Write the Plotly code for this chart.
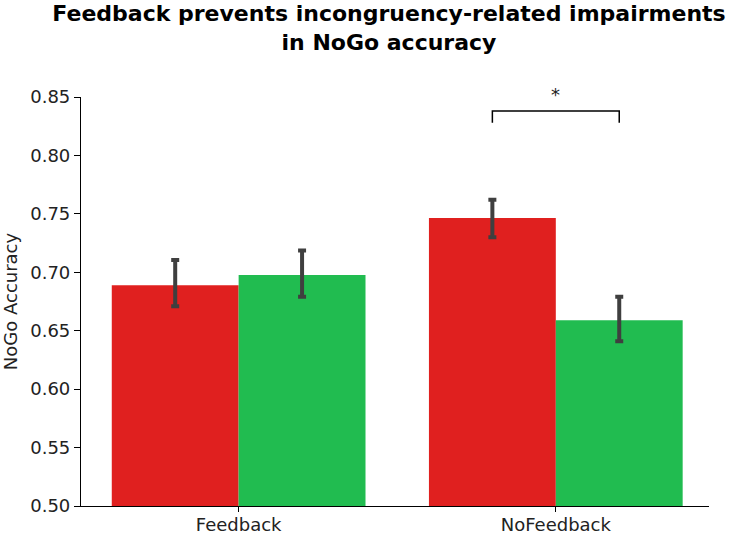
import plotly.graph_objects as go

categories = ["Feedback", "NoFeedback"]
congruent = [0.689, 0.7465]
congruent_hi = [0.7105, 0.762]
congruent_lo = [0.671, 0.730]
incongruent = [0.6977, 0.659]
incongruent_hi = [0.7186, 0.679]
incongruent_lo = [0.679, 0.641]
bracket_x = [0.8, 0.8, 1.2, 1.2]
bracket_y = [0.828, 0.838, 0.838, 0.828]
star_pos = (1.0, 0.8415)

RED = "#e0201f"
GREEN = "#21bc50"
ERR = "#3f3f3f"
FONT = "DejaVu Sans"

fig = go.Figure()
for name, vals, hi, lo, col in [
    ("Congruent", congruent, congruent_hi, congruent_lo, RED),
    ("Incongruent", incongruent, incongruent_hi, incongruent_lo, GREEN),
]:
    fig.add_trace(go.Bar(
        x=[0, 1], y=vals, name=name, marker=dict(color=col, line=dict(width=0)),
        error_y=dict(type="data", symmetric=False,
                     array=[h - v for h, v in zip(hi, vals)],
                     arrayminus=[v - l for v, l in zip(vals, lo)],
                     color=ERR, thickness=4, width=4),
    ))

fig.add_trace(go.Scatter(x=bracket_x, y=bracket_y, mode="lines",
                         line=dict(color="black", width=1.5), cliponaxis=False,
                         showlegend=False, hoverinfo="skip"))
fig.add_annotation(x=star_pos[0], y=star_pos[1], xref="x", yref="y", text="*",
                   showarrow=False, font=dict(family=FONT, size=18, color="#222"),
                   yanchor="bottom")

fig.update_layout(
    width=739, height=535,
    margin=dict(l=81, r=30, t=97, b=29),
    paper_bgcolor="white", plot_bgcolor="white",
    barmode="group", bargap=0.2, bargroupgap=0,
    showlegend=False,
    font=dict(family=FONT, size=18, color="#222"),
    title=dict(text="<b>Feedback prevents incongruency-related impairments<br>in NoGo accuracy</b>",
               x=389/739, xref="container", xanchor="center",
               y=1 - 21/535, yref="container", yanchor="top",
               font=dict(family=FONT, size=22, color="black")),
    xaxis=dict(range=[-0.497, 1.483], tickvals=[0, 1], ticktext=categories,
               showline=True, linecolor="black", linewidth=1.2,
               ticks="outside", ticklen=5, tickcolor="black",
               ticklabelstandoff=-3,
               showgrid=False, zeroline=False, automargin=False,
               tickfont=dict(size=18)),
    yaxis=dict(range=[0.5, 0.85], dtick=0.05, tick0=0.5, tickformat=".2f",
               showline=True, linecolor="black", linewidth=1.2,
               ticks="outside", ticklen=6, tickcolor="black",
               showgrid=False, zeroline=False, automargin=False,
               tickfont=dict(size=18),
               title=dict(text="NoGo Accuracy", font=dict(size=18), standoff=10)),
)

fig.write_html("out.html", config={"displayModeBar": False},
               post_script="document.body.style.margin='0';")
